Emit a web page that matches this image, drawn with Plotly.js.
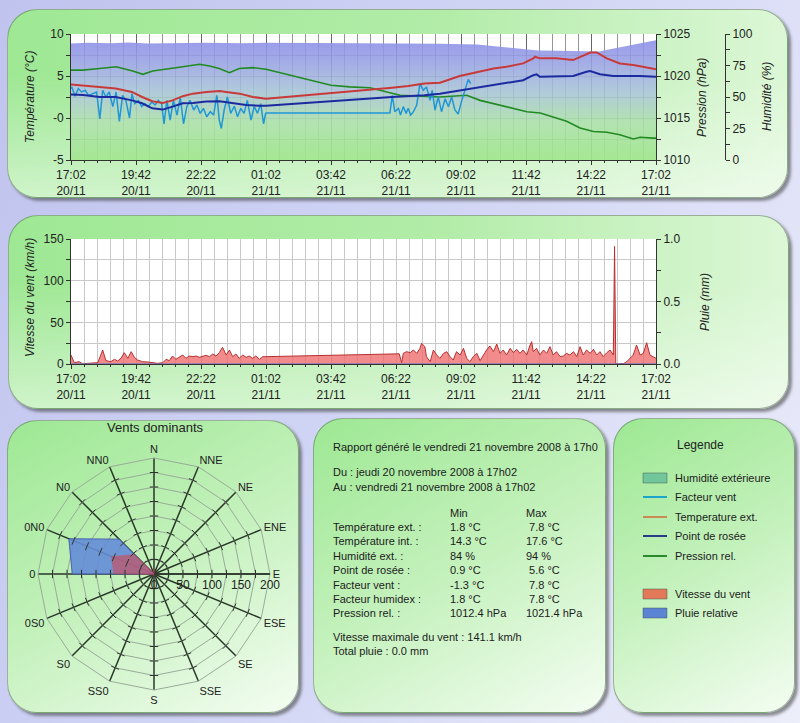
<!DOCTYPE html>
<html><head><meta charset="utf-8">
<script src="https://cdn.plot.ly/plotly-3.0.1.min.js"></script>
<style>
html,body{margin:0;padding:0;width:800px;height:723px;overflow:hidden;}
body{position:relative;background:linear-gradient(115deg,#bfc3ee 0%,#d0d4f4 45%,#eceefa 100%);}
.panel{position:absolute;border-radius:30px;border:1px solid rgba(80,100,80,0.5);box-shadow:3px 3px 3px rgba(60,60,60,0.55);}
.wide{background:linear-gradient(to bottom,rgba(255,255,255,0) 35%,rgba(255,255,255,0.5) 100%),linear-gradient(to right,#9ee894 0%,#b2eca8 55%,#dcf7d6 100%);}
.sq{background:linear-gradient(150deg,#9de893 0%,#c4f1bc 50%,#f4fdf2 100%);}
#chart{position:absolute;left:0;top:0;width:800px;height:723px;}
</style></head><body>
<div class="panel wide" style="left:7px;top:9px;width:779px;height:187px;"></div>
<div class="panel wide" style="left:8px;top:215px;width:779px;height:192px;"></div>
<div class="panel sq" style="left:7px;top:420px;width:290px;height:291px;"></div>
<div class="panel sq" style="left:313px;top:418px;width:291px;height:293px;"></div>
<div class="panel sq" style="left:613px;top:418px;width:180px;height:293px;"></div>
<div id="chart"></div>
<script>
// ---------------- DATA ----------------
const tickMinutes = [0,160,320,480,640,800,960,1120,1280,1440];
const tickLabels = ['17:02<br>20/11','19:42<br>20/11','22:22<br>20/11','01:02<br>21/11','03:42<br>21/11','06:22<br>21/11','09:02<br>21/11','11:42<br>21/11','14:22<br>21/11','17:02<br>21/11'];

const humMin = [0,40,100,140,190,250,330,420,480,600,800,908,1000,1060,1100,1150,1200,1250,1300,1330,1380,1440];
const humPct = [92.5,93.0,92.6,93.3,92.4,92.8,93.0,92.6,93.0,92.8,92.6,92.2,91.6,90.0,88.6,87.0,86.8,86.6,86.2,88.0,91.0,95.0];

const pressMin = [0,29,70,111,152,177,201,234,275,316,341,365,390,414,447,480,539,588,640,686,736,785,810,908,974,1007,1072,1122,1155,1187,1220,1253,1286,1319,1351,1384,1401,1433,1440];
const pressHpa = [1020.7,1020.7,1020.9,1021.1,1020.6,1020.2,1020.6,1020.8,1021.1,1021.4,1021.2,1020.9,1020.4,1020.9,1021.0,1020.8,1020.1,1019.5,1018.9,1018.7,1018.6,1018.0,1017.7,1017.5,1017.7,1017.1,1016.3,1015.75,1015.6,1015.1,1014.6,1013.8,1013.4,1013.3,1013.0,1012.5,1012.7,1012.6,1012.6];

const tempMin = [0,30,70,110,150,175,200,226,250,275,300,333,366,382,415,448,480,790,830,870,908,957,1007,1040,1072,1113,1138,1142,1154,1195,1236,1253,1278,1294,1319,1351,1384,1417,1440];
const tempC = [4.0,3.9,3.7,3.5,3.1,2.5,2.0,1.8,2.1,2.6,2.9,3.1,3.2,3.1,2.9,2.5,2.3,3.6,3.8,4.1,4.2,5.0,5.5,5.9,6.1,6.5,7.1,7.3,7.1,7.1,6.9,7.3,7.8,7.8,7.1,6.5,6.3,6.0,5.8];

const dewMin = [0,30,70,110,150,175,200,226,250,275,300,333,366,398,431,464,480,790,870,908,957,1007,1072,1113,1138,1146,1154,1236,1269,1278,1302,1335,1400,1440];
const dewC = [2.8,2.75,2.5,2.5,2.1,1.75,1.15,1.0,1.35,1.75,1.8,1.95,2.0,1.8,1.55,1.45,1.45,2.5,2.7,2.9,3.3,3.7,4.2,4.5,5.1,5.2,4.9,5.0,5.5,5.6,5.2,5.0,5.0,4.9];

const chillMin = [0,2,10,18,26,35,43,51,63,71,78,86,94,103,111,119,127,135,144,150,157,166,174,182,190,199,207,215,223,229,236,244,252,261,269,277,285,293,302,310,318,326,334,343,351,359,365,370,377,385,393,402,410,418,426,434,443,451,459,467,474,479,482,785,791,797,806,811,818,825,830,836,843,851,859,867,875,884,889,896,904,912,921,929,937,945,953,962,970,978,984];
const chillC = [3.5,3.7,2.6,3.5,3.1,3.3,2.7,2.9,3.1,-0.1,3.3,2.5,3.1,1.35,3.1,-0.4,2.7,2.1,0.0,2.9,1.7,2.1,1.35,1.7,1.35,1.9,1.55,2.1,1.7,-0.7,2.1,-0.25,2.1,0.35,2.5,-0.7,1.35,2.1,0.95,1.55,0.55,1.15,0.15,0.75,0.35,2.7,-0.25,-1.25,0.95,2.5,0.55,1.4,0.15,1.15,0.55,2.1,-0.25,1.4,0.55,1.7,-0.7,0.55,0.6,0.6,2.7,0.75,1.15,0.36,1.35,0.55,1.15,0.36,0.75,1.55,4.1,3.3,3.7,2.1,3.3,0.95,2.5,0.75,2.3,1.35,2.5,0.95,0.48,2.1,3.3,4.6,4.1];

const windMin = [0,8,20,29,41,53,66,78,86,98,107,115,123,131,140,148,156,164,176,189,201,213,226,234,242,250,258,267,275,283,291,300,308,316,324,332,341,349,357,365,373,382,390,398,406,414,423,431,439,447,455,464,472,480,808,814,818,826,835,843,851,859,863,871,875,884,892,900,908,917,925,933,941,949,958,966,974,982,990,999,1007,1015,1023,1031,1040,1048,1056,1064,1072,1081,1089,1097,1105,1113,1122,1130,1134,1138,1146,1154,1163,1171,1179,1187,1195,1204,1212,1220,1228,1237,1245,1253,1261,1269,1278,1286,1294,1302,1310,1319,1327,1335,1338,1341,1343,1360,1368,1376,1384,1392,1401,1409,1417,1425,1433,1440];
const windKmh = [10.8,1.6,2.8,0,0.8,0.8,1.6,16.8,4,2.8,5.6,3.6,6.8,13.6,6.8,14.8,8,4.8,2.8,2.4,1.6,0.8,1.6,5.6,4,9.6,5.6,8,10.8,6.8,9.6,8.8,9.6,8,9.6,10.4,8.8,12,9.6,13.6,20,10.8,16.8,8.8,12,6.8,10.8,8,9.6,6.8,9.6,5.6,8.8,8.8,12.2,1.6,12.8,14.8,13.6,16.8,12.8,18.8,24.8,20.8,8.8,2.8,16.8,10.8,6.8,12.8,14.8,8.8,4.8,14.8,10.8,18.8,6.8,2.8,8.8,12.8,4,10.8,16.8,21.6,14.8,24,12.8,16.8,10.8,18.8,13.6,17.6,12.8,16.8,10.8,22.8,26.8,14.8,18.8,10.8,16.8,12.8,20.8,10.8,14.8,8.8,9.6,12.8,10.8,14.8,8.8,20.8,10.8,16.8,12.8,17.6,10.8,14.8,8.8,13.6,16.8,10.8,141.1,0.5,0,0.4,2.8,6.8,10.8,22.8,10.8,12.8,25.6,10.8,8.8,6.8];

const rainMin = [0,1440];
const rainMm = [0,0];

const roseDirs = ['N','NNE','NE','ENE','E','ESE','SE','SSE','S','SS0','S0','0S0','0','0N0','N0','NN0'];
const roseFreq = [0,0,0,0,0,0,0,0,0,0,0,0,141,159,85,0];
const roseSpeed = [14,3,3,3,3,3,3,3,3,3,3,3,70,80,48,4];
const roseRingVals = [0,25,50,75,100,125,150,175,200];
const roseRingText = ['0','','50','','100','','150','','200'];

const tempTickVals = [-5,-2.5,0,2.5,5,7.5,10];
const tempTickText = ['-5','','-0','','5','','10'];
const pressTickVals = [1010,1012.5,1015,1017.5,1020,1022.5,1025];
const pressTickText = ['1010','','1015','','1020','','1025'];
const humTickVals = [0,12.5,25,37.5,50,62.5,75,87.5,100];
const humTickText = ['0','','25','','50','','75','','100'];
const windTickVals = [0,25,50,75,100,125,150];
const windTickText = ['0','','50','','100','','150'];
const rainTickVals = [0,0.25,0.5,0.75,1];
const rainTickText = ['0.0','','0.5','','1.0'];

const reportTitle = 'Rapport généré le vendredi 21 novembre 2008 à 17h0';
const reportFrom = 'Du : jeudi 20 novembre 2008 à 17h02';
const reportTo = 'Au : vendredi 21 novembre 2008 à 17h02';
const statLabels = ['Température ext. :','Température int. :','Humidité ext. :','Point de rosée :','Facteur vent :','Facteur humidex :','Pression rel. :'];
const statMin = ['1.8 °C','14.3 °C','84 %','0.9 °C','-1.3 °C','1.8 °C','1012.4 hPa'];
const statMax = ['\u00a07.8 °C','17.6 °C','94 %','\u00a05.6 °C','\u00a07.8 °C','\u00a07.8 °C','1021.4 hPa'];
const reportWind = 'Vitesse maximale du vent : 141.1 km/h';
const reportRain = 'Total pluie : 0.0 mm';

const legendLabels = ['Humidité extérieure','Facteur vent','Temperature ext.','Point de rosée','Pression rel.','Vitesse du vent','Pluie relative'];
const legendKinds = ['box','line','line','line','line','box','box'];
const legendColors = ['#72c69c','#1ca4cc','#c98a55','#2a3a8a','#2a8a2a','#e27a5a','#5c84d4'];

// ---------------- BUILD ----------------
const W = 800, H = 723;
const X = p => p / W, Y = p => 1 - p / H;
const F = '"Liberation Sans", Arial, sans-serif';
const tickFont = {family: F, size: 12, color: '#222'};
const gridTop = 'rgba(60,60,70,0.55)';
const gridMid = '#c9c9c9';

const traces = [
  {type:'scatter', x: humMin, y: humPct, xaxis:'x', yaxis:'y', mode:'lines', line:{width:0}, fill:'tozeroy',
   fillgradient:{type:'vertical', start:0, stop:100,
     colorscale:[[0,'rgba(158,230,138,0.93)'],[0.3,'rgba(170,224,168,0.9)'],[0.55,'rgba(166,194,214,0.88)'],[0.8,'rgba(150,158,228,0.88)'],[1,'rgba(138,138,232,0.9)']]}},
  {type:'scatter', x: pressMin, y: pressHpa, xaxis:'x', yaxis:'y2', mode:'lines', line:{color:'#228a22', width:1.6}},
  {type:'scatter', x: chillMin, y: chillC, xaxis:'x', yaxis:'y3', mode:'lines', line:{color:'#2196d6', width:1.5}},
  {type:'scatter', x: dewMin, y: dewC, xaxis:'x', yaxis:'y3', mode:'lines', line:{color:'#1c2aa0', width:2}},
  {type:'scatter', x: tempMin, y: tempC, xaxis:'x', yaxis:'y3', mode:'lines', line:{color:'#c83a3a', width:2}},
  {type:'scatter', x: windMin, y: windKmh, xaxis:'x2', yaxis:'y4', mode:'lines', fill:'tozeroy',
   fillcolor:'rgba(238,108,108,0.78)', line:{color:'#b83030', width:1}},
  {type:'scatter', x: rainMin, y: rainMm, xaxis:'x2', yaxis:'y5', mode:'lines', line:{color:'#4a70c8', width:1}},
  {type:'scatterpolar', r: roseFreq, theta: roseDirs, mode:'lines', fill:'toself',
   fillcolor:'rgba(100,140,215,0.9)', line:{color:'rgba(70,90,170,0.9)', width:1}},
  {type:'scatterpolar', r: roseSpeed, theta: roseDirs, mode:'lines', fill:'toself',
   fillcolor:'rgba(215,70,80,0.6)', line:{color:'rgba(200,60,70,0)', width:0}}
];

// spoke tick marks on the wind rose grid
const tkTheta = [], tkR = [], tkAng = [];
roseDirs.forEach((d, i) => {
  roseRingVals.slice(1, -1).forEach(r => { tkTheta.push(d); tkR.push(r); tkAng.push(i * 22.5); });
});
traces.push({type:'scatterpolar', r: tkR, theta: tkTheta, mode:'markers',
  marker:{symbol:'line-ew', size:6, angle: tkAng, line:{color:'#2a362a', width:1}}});
traces.push({type:'scatterpolar', r:[0], theta:['N'], mode:'markers',
  marker:{size:11, color:'#8c0c0c'}});

const axCommon = {showline:true, linecolor:'#333', linewidth:1, ticks:'outside', ticklen:4, tickcolor:'#333',
  zeroline:false, tickfont: tickFont};

const layout = {
  width: W, height: H, margin:{l:0,r:0,t:0,b:0},
  paper_bgcolor:'rgba(0,0,0,0)', plot_bgcolor:'#ffffff', showlegend:false,
  xaxis: Object.assign({}, axCommon, {domain:[X(71), X(656)], anchor:'y', range:[0,1440],
    tickmode:'array', tickvals: tickMinutes, ticktext: tickLabels, showgrid:true, gridcolor: gridTop,
    minor:{tickmode:'linear', tick0:0, dtick:32, showgrid:true, gridcolor: gridTop, ticks:'outside', ticklen:2, tickcolor:'#333'}}),
  yaxis: Object.assign({}, axCommon, {domain:[Y(160), Y(34)], anchor:'free', position: X(725), side:'right',
    range:[0,100], tickmode:'array', tickvals: humTickVals, ticktext: humTickText, showgrid:false}),
  yaxis2: Object.assign({}, axCommon, {overlaying:'y', anchor:'x', side:'right', range:[1010,1025],
    tickmode:'array', tickvals: pressTickVals, ticktext: pressTickText, showgrid:false}),
  yaxis3: Object.assign({}, axCommon, {overlaying:'y', anchor:'x', side:'left', range:[-5,10],
    tickmode:'array', tickvals: tempTickVals, ticktext: tempTickText, showgrid:true, gridcolor: gridTop}),
  xaxis2: Object.assign({}, axCommon, {domain:[X(71), X(656)], anchor:'y4', range:[0,1440],
    tickmode:'array', tickvals: tickMinutes, ticktext: tickLabels, showgrid:true, gridcolor: gridMid,
    minor:{tickmode:'linear', tick0:0, dtick:32, showgrid:true, gridcolor: gridMid, ticks:'outside', ticklen:2, tickcolor:'#333'}}),
  yaxis4: Object.assign({}, axCommon, {domain:[Y(364), Y(239)], anchor:'x2', range:[0,150],
    tickmode:'array', tickvals: windTickVals, ticktext: windTickText, showgrid:true, gridcolor: gridMid}),
  yaxis5: Object.assign({}, axCommon, {overlaying:'y4', anchor:'x2', side:'right', range:[0,1],
    tickmode:'array', tickvals: rainTickVals, ticktext: rainTickText, showgrid:false}),
  polar: {
    domain:{x:[X(38), X(270)], y:[Y(690), Y(458)]}, bgcolor:'rgba(0,0,0,0)', gridshape:'linear',
    angularaxis:{type:'category', categoryarray: roseDirs, rotation:90, direction:'clockwise',
      showgrid:true, gridcolor:'#2a362a', gridwidth:1.5, showline:true, linecolor:'#9aab9a', linewidth:1,
      ticks:'', tickfont:{family:F, size:11, color:'#222'}},
    radialaxis:{range:[0,200], tickmode:'array', tickvals: roseRingVals, ticktext: roseRingText, angle:0, side:'clockwise',
      showline:true, linecolor:'#2a362a', linewidth:1.5, showgrid:true, gridcolor:'#9aab9a', gridwidth:1,
      ticks:'', tickangle:0, tickfont:{family:F, size:12, color:'#222'}}
  },
  shapes: [], annotations: []
};

const A = layout.annotations, S = layout.shapes;
function txt(x, y, text, o) {
  A.push(Object.assign({xref:'paper', yref:'paper', x:X(x), y:Y(y), text:text, showarrow:false,
    xanchor:'left', yanchor:'middle', font:{family:F, size:11, color:'#1c1c1c'}}, o || {}));
}
function vtitle(x, y, text) {
  txt(x, y, text, {xanchor:'center', textangle:-90, font:{family:F, size:12, color:'#222', style:'italic'}});
}
vtitle(30, 97, 'Température (°C)');
vtitle(702, 98, 'Pression (hPa)');
vtitle(767, 97, 'Humidité (%)');
vtitle(30, 298, 'Vitesse du vent (km/h)');
vtitle(705, 302, 'Pluie (mm)');

txt(155, 427, 'Vents dominants', {xanchor:'center', font:{family:F, size:13, color:'#222'}});

// report panel
txt(331, 447, reportTitle);
txt(331, 472, reportFrom);
txt(331, 487, reportTo);
txt(448, 513, 'Min');
txt(524, 513, 'Max');
statLabels.forEach((l, i) => {
  const y = 527 + i * 14.4;
  txt(331, y, l); txt(448, y, statMin[i]); txt(524, y, statMax[i]);
});
txt(331, 637, reportWind);
txt(331, 651, reportRain);

// legend panel
txt(700, 445, 'Legende', {xanchor:'center', font:{family:F, size:12, color:'#222'}});
const legY = [478, 497, 517, 536, 556, 594, 613];
legendLabels.forEach((l, i) => {
  const y = legY[i];
  if (legendKinds[i] === 'box') {
    S.push({type:'rect', xref:'paper', yref:'paper', x0:X(643), x1:X(667), y0:Y(y+5), y1:Y(y-5),
      fillcolor: legendColors[i], line:{color:'rgba(60,80,70,0.45)', width:1}});
  } else {
    S.push({type:'line', xref:'paper', yref:'paper', x0:X(643), x1:X(667), y0:Y(y), y1:Y(y),
      line:{color: legendColors[i], width:2}});
  }
  txt(673, y, l);
});

Plotly.newPlot('chart', traces, layout, {displayModeBar:false, staticPlot:true});
</script>
</body></html>
